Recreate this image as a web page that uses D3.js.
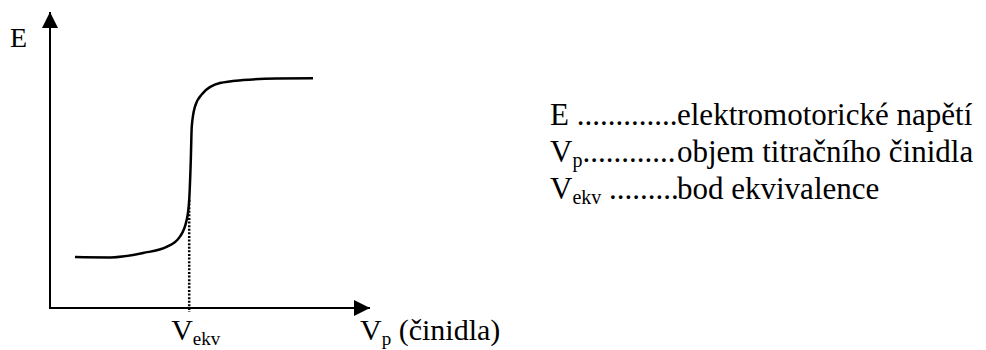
<!DOCTYPE html>
<html>
<head>
<meta charset="utf-8">
<script src="https://cdn.jsdelivr.net/npm/d3@7"></script>
<style>
  body { margin: 0; background: #fff; }
</style>
</head>
<body>
<div id="chart"></div>
<script>
// titration curve (Vp, E) in arbitrary units 0..100
var curveV = [7.8, 18.8, 29.1, 36.6, 40.6, 42.7, 43.5, 44.0, 44.3, 45.3, 47.8, 53.1, 60.3, 70.9, 82.2];
var curveE = [17.2, 17.1, 18.6, 20.7, 24.1, 29.7, 36.5, 50.0, 61.3, 68.0, 72.6, 76.0, 77.0, 77.5, 77.6];
var vEkv = 43.5, eEkv = 36.5;

var legendSymbols = ["E", "V", "V"];
var legendSubs = ["", "p", "ekv"];
var legendDots = [" .............", "............", " ........."];
var legendTexts = ["elektromotorické napětí", "objem titračního činidla", "bod ekvivalence"];

var width = 986, height = 350;
var serifFont = "Liberation Serif";

var svg = d3.select("#chart")
  .append("svg")
    .attr("width", width)
    .attr("height", height);

var x = d3.scaleLinear().domain([0, 100]).range([50, 370]);
var y = d3.scaleLinear().domain([0, 100]).range([308, 12]);

// arrow heads
svg.append("defs").append("marker")
  .attr("id", "arrow")
  .attr("viewBox", "0 0 16 16")
  .attr("refX", 16)
  .attr("refY", 8)
  .attr("markerWidth", 16)
  .attr("markerHeight", 16)
  .attr("markerUnits", "userSpaceOnUse")
  .attr("orient", "auto")
.append("path")
  .attr("d", "M0,0 L16,8 L0,16 Z")
  .attr("fill", "#000");

// axes
svg.append("line")
  .attr("x1", x(0)).attr("y1", y(0))
  .attr("x2", x(0)).attr("y2", y(100))
  .attr("stroke", "#000").attr("stroke-width", 2)
  .attr("marker-end", "url(#arrow)");
svg.append("line")
  .attr("x1", x(0) - 1).attr("y1", y(0))
  .attr("x2", x(100)).attr("y2", y(0))
  .attr("stroke", "#000").attr("stroke-width", 2)
  .attr("marker-end", "url(#arrow)");

// dotted line at equivalence point
svg.append("line")
  .attr("x1", x(vEkv)).attr("y1", y(eEkv))
  .attr("x2", x(vEkv)).attr("y2", y(0) + 4)
  .attr("stroke", "#000").attr("stroke-width", 2.5)
  .attr("stroke-dasharray", "2,1.6");

// the curve
var pts = curveV.map(function(v, i) { return [v, curveE[i]]; });
var line = d3.line()
  .x(function(d) { return x(d[0]); })
  .y(function(d) { return y(d[1]); })
  .curve(d3.curveMonotoneX);

svg.append("path")
  .datum(pts)
  .attr("d", line)
  .attr("fill", "none")
  .attr("stroke", "#000")
  .attr("stroke-width", 2.5);

// axis labels
svg.append("text")
  .attr("x", 10).attr("y", 47)
  .attr("font-family", serifFont)
  .attr("font-size", 28)
  .text("E");

var lblEkv = svg.append("text")
  .attr("x", x(vEkv) - 18).attr("y", 340)
  .attr("font-family", serifFont)
  .attr("font-size", 30);
lblEkv.append("tspan").text("V");
lblEkv.append("tspan").attr("dy", 5).attr("font-size", 19).text("ekv");

var lblVp = svg.append("text")
  .attr("x", 360).attr("y", 340)
  .attr("font-family", serifFont)
  .attr("font-size", 30);
lblVp.append("tspan").text("V");
lblVp.append("tspan").attr("dy", 5).attr("font-size", 19).text("p");
lblVp.append("tspan").attr("dy", -5).text(" (činidla)");

// legend
legendTexts.forEach(function(desc, i) {
  var t = svg.append("text")
    .attr("x", 550)
    .attr("y", 125 + i * 37)
    .attr("font-family", serifFont)
    .attr("font-size", 31);
  t.append("tspan").text(legendSymbols[i]);
  if (legendSubs[i]) {
    t.append("tspan").attr("dy", 5).attr("font-size", 20).text(legendSubs[i]);
    t.append("tspan").attr("dy", -5).text(legendDots[i]);
  } else {
    t.append("tspan").text(legendDots[i]);
  }
  t.append("tspan").attr("x", 677).text(desc);
});
</script>
</body>
</html>
